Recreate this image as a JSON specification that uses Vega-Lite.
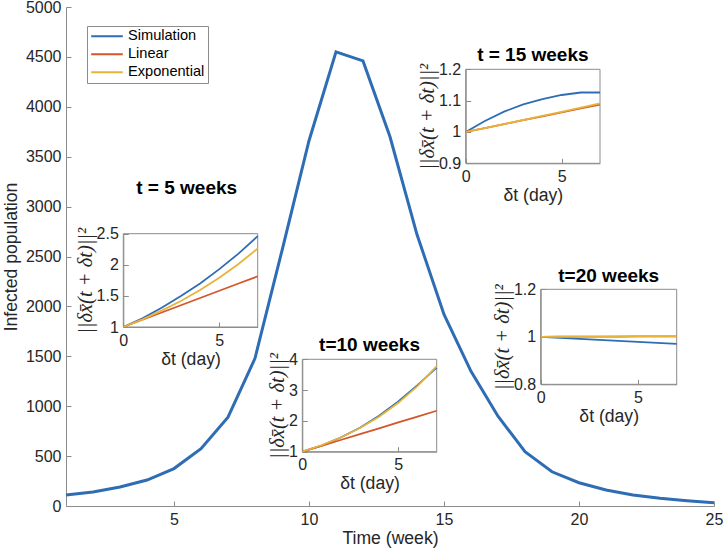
{
  "$schema": "https://vega.github.io/schema/vega-lite/v6.json",
  "width": 648,
  "height": 499,
  "autosize": {"type": "none"},
  "padding": {"left": 66, "top": 7, "right": 9, "bottom": 42},
  "background": "white",
  "config": {
    "view": {"stroke": null},
    "font": "Liberation Sans",
    "axis": {
      "grid": false,
      "labelFont": "Liberation Sans",
      "titleFont": "Liberation Sans",
      "labelFontSize": 16,
      "titleFontSize": 17.6,
      "titleFontWeight": "normal",
      "domainColor": "#8c8c8c",
      "tickColor": "#8c8c8c",
      "labelColor": "#262626",
      "titleColor": "#262626",
      "tickSize": -5,
      "labelPadding": 10,
      "labelFlush": false,
      "labelOverlap": false,
      "zindex": 1
    }
  },
  "datasets": {
    "main": [
      {"week": 1, "infected": 110, "series": "Simulation"},
      {"week": 2, "infected": 140, "series": "Simulation"},
      {"week": 3, "infected": 190, "series": "Simulation"},
      {"week": 4, "infected": 260, "series": "Simulation"},
      {"week": 5, "infected": 375, "series": "Simulation"},
      {"week": 6, "infected": 575, "series": "Simulation"},
      {"week": 7, "infected": 890, "series": "Simulation"},
      {"week": 8, "infected": 1480, "series": "Simulation"},
      {"week": 9, "infected": 2560, "series": "Simulation"},
      {"week": 10, "infected": 3660, "series": "Simulation"},
      {"week": 11, "infected": 4550, "series": "Simulation"},
      {"week": 12, "infected": 4460, "series": "Simulation"},
      {"week": 13, "infected": 3700, "series": "Simulation"},
      {"week": 14, "infected": 2720, "series": "Simulation"},
      {"week": 15, "infected": 1920, "series": "Simulation"},
      {"week": 16, "infected": 1350, "series": "Simulation"},
      {"week": 17, "infected": 900, "series": "Simulation"},
      {"week": 18, "infected": 545, "series": "Simulation"},
      {"week": 19, "infected": 343, "series": "Simulation"},
      {"week": 20, "infected": 233, "series": "Simulation"},
      {"week": 21, "infected": 160, "series": "Simulation"},
      {"week": 22, "infected": 110, "series": "Simulation"},
      {"week": 23, "infected": 77, "series": "Simulation"},
      {"week": 24, "infected": 53, "series": "Simulation"},
      {"week": 25, "infected": 33, "series": "Simulation"}
    ],
    "i5": [
      {"t": 0, "v": 1, "series": "Simulation"}, {"t": 1, "v": 1.14, "series": "Simulation"}, {"t": 2, "v": 1.31, "series": "Simulation"}, {"t": 3, "v": 1.5, "series": "Simulation"}, {"t": 4, "v": 1.7, "series": "Simulation"}, {"t": 5, "v": 1.93, "series": "Simulation"}, {"t": 6, "v": 2.18, "series": "Simulation"}, {"t": 7, "v": 2.46, "series": "Simulation"},
      {"t": 0, "v": 1, "series": "Linear"}, {"t": 1, "v": 1.1165, "series": "Linear"}, {"t": 2, "v": 1.233, "series": "Linear"}, {"t": 3, "v": 1.3495, "series": "Linear"}, {"t": 4, "v": 1.466, "series": "Linear"}, {"t": 5, "v": 1.5825, "series": "Linear"}, {"t": 6, "v": 1.699, "series": "Linear"}, {"t": 7, "v": 1.8155, "series": "Linear"},
      {"t": 0, "v": 1, "series": "Exponential"}, {"t": 1, "v": 1.1236, "series": "Exponential"}, {"t": 2, "v": 1.2625, "series": "Exponential"}, {"t": 3, "v": 1.4186, "series": "Exponential"}, {"t": 4, "v": 1.594, "series": "Exponential"}, {"t": 5, "v": 1.791, "series": "Exponential"}, {"t": 6, "v": 2.0124, "series": "Exponential"}, {"t": 7, "v": 2.2612, "series": "Exponential"}
    ],
    "i10": [
      {"t": 0, "v": 1, "series": "Simulation"}, {"t": 1, "v": 1.2, "series": "Simulation"}, {"t": 2, "v": 1.46, "series": "Simulation"}, {"t": 3, "v": 1.78, "series": "Simulation"}, {"t": 4, "v": 2.17, "series": "Simulation"}, {"t": 5, "v": 2.63, "series": "Simulation"}, {"t": 6, "v": 3.16, "series": "Simulation"}, {"t": 7, "v": 3.73, "series": "Simulation"},
      {"t": 0, "v": 1, "series": "Linear"}, {"t": 1, "v": 1.19, "series": "Linear"}, {"t": 2, "v": 1.38, "series": "Linear"}, {"t": 3, "v": 1.57, "series": "Linear"}, {"t": 4, "v": 1.76, "series": "Linear"}, {"t": 5, "v": 1.95, "series": "Linear"}, {"t": 6, "v": 2.14, "series": "Linear"}, {"t": 7, "v": 2.33, "series": "Linear"},
      {"t": 0, "v": 1, "series": "Exponential"}, {"t": 1, "v": 1.209, "series": "Exponential"}, {"t": 2, "v": 1.462, "series": "Exponential"}, {"t": 3, "v": 1.768, "series": "Exponential"}, {"t": 4, "v": 2.138, "series": "Exponential"}, {"t": 5, "v": 2.586, "series": "Exponential"}, {"t": 6, "v": 3.127, "series": "Exponential"}, {"t": 7, "v": 3.781, "series": "Exponential"}
    ],
    "i15": [
      {"t": 0, "v": 1, "series": "Simulation"}, {"t": 1, "v": 1.035, "series": "Simulation"}, {"t": 2, "v": 1.065, "series": "Simulation"}, {"t": 3, "v": 1.088, "series": "Simulation"}, {"t": 4, "v": 1.105, "series": "Simulation"}, {"t": 5, "v": 1.118, "series": "Simulation"}, {"t": 6, "v": 1.126, "series": "Simulation"}, {"t": 7, "v": 1.126, "series": "Simulation"},
      {"t": 0, "v": 1, "series": "Linear"}, {"t": 1, "v": 1.0125, "series": "Linear"}, {"t": 2, "v": 1.025, "series": "Linear"}, {"t": 3, "v": 1.0375, "series": "Linear"}, {"t": 4, "v": 1.05, "series": "Linear"}, {"t": 5, "v": 1.0625, "series": "Linear"}, {"t": 6, "v": 1.075, "series": "Linear"}, {"t": 7, "v": 1.0875, "series": "Linear"},
      {"t": 0, "v": 1, "series": "Exponential"}, {"t": 1, "v": 1.0126, "series": "Exponential"}, {"t": 2, "v": 1.0253, "series": "Exponential"}, {"t": 3, "v": 1.0382, "series": "Exponential"}, {"t": 4, "v": 1.0513, "series": "Exponential"}, {"t": 5, "v": 1.0645, "series": "Exponential"}, {"t": 6, "v": 1.0779, "series": "Exponential"}, {"t": 7, "v": 1.0914, "series": "Exponential"}
    ],
    "i20": [
      {"t": 0, "v": 1, "series": "Simulation"}, {"t": 1, "v": 0.9957, "series": "Simulation"}, {"t": 2, "v": 0.9914, "series": "Simulation"}, {"t": 3, "v": 0.9871, "series": "Simulation"}, {"t": 4, "v": 0.9829, "series": "Simulation"}, {"t": 5, "v": 0.9786, "series": "Simulation"}, {"t": 6, "v": 0.9743, "series": "Simulation"}, {"t": 7, "v": 0.97, "series": "Simulation"},
      {"t": 0, "v": 1, "series": "Linear"}, {"t": 1, "v": 1.0003, "series": "Linear"}, {"t": 2, "v": 1.0006, "series": "Linear"}, {"t": 3, "v": 1.0009, "series": "Linear"}, {"t": 4, "v": 1.0011, "series": "Linear"}, {"t": 5, "v": 1.0014, "series": "Linear"}, {"t": 6, "v": 1.0017, "series": "Linear"}, {"t": 7, "v": 1.002, "series": "Linear"},
      {"t": 0, "v": 1, "series": "Exponential"}, {"t": 1, "v": 1.0003, "series": "Exponential"}, {"t": 2, "v": 1.0006, "series": "Exponential"}, {"t": 3, "v": 1.0009, "series": "Exponential"}, {"t": 4, "v": 1.0012, "series": "Exponential"}, {"t": 5, "v": 1.0015, "series": "Exponential"}, {"t": 6, "v": 1.0018, "series": "Exponential"}, {"t": 7, "v": 1.0021, "series": "Exponential"}
    ]
  },
  "resolve": {"scale": {"x": "independent", "y": "independent"}, "axis": {"x": "independent", "y": "independent"}},
  "layer": [
    {
      "data": {"name": "main"},
      "mark": {"type": "line", "strokeWidth": 3, "clip": false},
      "encoding": {
        "x": {"field": "week", "type": "quantitative",
          "scale": {"domain": [1, 25], "nice": false, "zero": false},
          "axis": {"orient": "bottom", "values": [5, 10, 15, 20, 25], "title": "Time (week)", "titlePadding": 2}},
        "y": {"field": "infected", "type": "quantitative",
          "scale": {"domain": [0, 5000], "nice": false},
          "axis": {"orient": "left", "values": [0, 500, 1000, 1500, 2000, 2500, 3000, 3500, 4000, 4500, 5000], "format": "d", "title": "Infected population", "titlePadding": 5}},
        "color": {"field": "series", "type": "nominal",
          "scale": {"domain": ["Simulation", "Linear", "Exponential"], "range": ["#2E6DB4", "#D5552B", "#E8B33A"]},
          "legend": {"orient": "none", "legendX": 21, "legendY": 19, "title": null, "strokeColor": "#8c8c8c", "fillColor": "white", "padding": 3, "labelFont": "Liberation Sans", "labelFontSize": 14.6, "labelColor": "#000000", "rowPadding": 2, "symbolType": "stroke", "symbolSize": 1000, "symbolStrokeWidth": 2, "labelOffset": 4, "clipHeight": 14.4}}
      }
    },
    {
      "layer": [
        {
          "data": {"values": [{"label": "t = 5 weeks"}]},
          "mark": {"type": "rect", "filled": false, "stroke": "#8c8c8c", "strokeWidth": 1},
          "encoding": {
            "x": {"datum": 0, "type": "quantitative"},
            "x2": {"datum": 7},
            "y": {"datum": 1, "type": "quantitative"},
            "y2": {"datum": 2.5}
          }
        },
        {
          "data": {"name": "i5"},
          "mark": {"type": "line", "strokeWidth": 1.8},
          "encoding": {
            "x": {"field": "t", "type": "quantitative",
              "scale": {"domain": [0, 7], "range": [57.3, 191.7], "nice": false, "zero": false},
              "axis": {"orient": "bottom", "offset": -179, "values": [0, 5], "format": "~g", "title": "δt (day)", "titlePadding": 2}},
            "y": {"field": "v", "type": "quantitative",
              "scale": {"domain": [1, 2.5], "range": [320, 226.7], "nice": false, "zero": false},
              "axis": {"orient": "left", "offset": -57.3, "values": [1, 1.5, 2, 2.5], "format": "~g", "title": "||δx̄(t + δt)||²", "titleFont": "Liberation Serif", "titleFontStyle": "italic", "titleFontSize": 20.5, "titlePadding": 1}},
            "color": {"field": "series", "type": "nominal", "scale": {"domain": ["Simulation", "Linear", "Exponential"], "range": ["#2E6DB4", "#D5552B", "#E8B33A"]}}
          }
        },
        {
          "data": {"values": [{"label": "t = 5 weeks"}]},
          "mark": {"type": "text", "font": "Liberation Sans", "fontWeight": "bold", "fontSize": 19, "align": "center", "baseline": "middle", "dy": -46, "color": "#000000"},
          "encoding": {
            "x": {"datum": 3.3, "type": "quantitative"},
            "y": {"datum": 2.5, "type": "quantitative"},
            "text": {"field": "label"}
          }
        }
      ]
    },
    {
      "layer": [
        {
          "data": {"values": [{"label": "t=10 weeks"}]},
          "mark": {"type": "rect", "filled": false, "stroke": "#8c8c8c", "strokeWidth": 1},
          "encoding": {
            "x": {"datum": 0, "type": "quantitative"},
            "x2": {"datum": 7},
            "y": {"datum": 1, "type": "quantitative"},
            "y2": {"datum": 4}
          }
        },
        {
          "data": {"name": "i10"},
          "mark": {"type": "line", "strokeWidth": 1.8},
          "encoding": {
            "x": {"field": "t", "type": "quantitative",
              "scale": {"domain": [0, 7], "range": [236.3, 370.7], "nice": false, "zero": false},
              "axis": {"orient": "bottom", "offset": -54.3, "values": [0, 5], "format": "~g", "title": "δt (day)", "titlePadding": 2}},
            "y": {"field": "v", "type": "quantitative",
              "scale": {"domain": [1, 4], "range": [444.7, 352.3], "nice": false, "zero": false},
              "axis": {"orient": "left", "offset": -236.3, "values": [1, 2, 3, 4], "format": "~g", "title": "||δx̄(t + δt)||²", "titleFont": "Liberation Serif", "titleFontStyle": "italic", "titleFontSize": 20.5, "titlePadding": 1}},
            "color": {"field": "series", "type": "nominal", "scale": {"domain": ["Simulation", "Linear", "Exponential"], "range": ["#2E6DB4", "#D5552B", "#E8B33A"]}}
          }
        },
        {
          "data": {"values": [{"label": "t=10 weeks"}]},
          "mark": {"type": "text", "font": "Liberation Sans", "fontWeight": "bold", "fontSize": 19, "align": "center", "baseline": "middle", "dy": -14, "color": "#000000"},
          "encoding": {
            "x": {"datum": 3.5, "type": "quantitative"},
            "y": {"datum": 4, "type": "quantitative"},
            "text": {"field": "label"}
          }
        }
      ]
    },
    {
      "layer": [
        {
          "data": {"values": [{"label": "t = 15 weeks"}]},
          "mark": {"type": "rect", "filled": false, "stroke": "#8c8c8c", "strokeWidth": 1},
          "encoding": {
            "x": {"datum": 0, "type": "quantitative"},
            "x2": {"datum": 7},
            "y": {"datum": 0.9, "type": "quantitative"},
            "y2": {"datum": 1.2}
          }
        },
        {
          "data": {"name": "i15"},
          "mark": {"type": "line", "strokeWidth": 1.8},
          "encoding": {
            "x": {"field": "t", "type": "quantitative",
              "scale": {"domain": [0, 7], "range": [399.7, 534], "nice": false, "zero": false},
              "axis": {"orient": "bottom", "offset": -342.7, "values": [0, 5], "format": "~g", "title": "δt (day)", "titlePadding": 2}},
            "y": {"field": "v", "type": "quantitative",
              "scale": {"domain": [0.9, 1.2], "range": [156.3, 62.3], "nice": false, "zero": false},
              "axis": {"orient": "left", "offset": -399.7, "values": [0.9, 1, 1.1, 1.2], "format": "~g", "title": "||δx̄(t + δt)||²", "titleFont": "Liberation Serif", "titleFontStyle": "italic", "titleFontSize": 20.5, "titlePadding": 1}},
            "color": {"field": "series", "type": "nominal", "scale": {"domain": ["Simulation", "Linear", "Exponential"], "range": ["#2E6DB4", "#D5552B", "#E8B33A"]}}
          }
        },
        {
          "data": {"values": [{"label": "t = 15 weeks"}]},
          "mark": {"type": "text", "font": "Liberation Sans", "fontWeight": "bold", "fontSize": 19, "align": "center", "baseline": "middle", "dy": -14, "color": "#000000"},
          "encoding": {
            "x": {"datum": 3.5, "type": "quantitative"},
            "y": {"datum": 1.2, "type": "quantitative"},
            "text": {"field": "label"}
          }
        }
      ]
    },
    {
      "layer": [
        {
          "data": {"values": [{"label": "t=20 weeks"}]},
          "mark": {"type": "rect", "filled": false, "stroke": "#8c8c8c", "strokeWidth": 1},
          "encoding": {
            "x": {"datum": 0, "type": "quantitative"},
            "x2": {"datum": 7},
            "y": {"datum": 0.8, "type": "quantitative"},
            "y2": {"datum": 1.2}
          }
        },
        {
          "data": {"name": "i20"},
          "mark": {"type": "line", "strokeWidth": 1.8},
          "encoding": {
            "x": {"field": "t", "type": "quantitative",
              "scale": {"domain": [0, 7], "range": [474.7, 610.7], "nice": false, "zero": false},
              "axis": {"orient": "bottom", "offset": -121.7, "values": [0, 5], "format": "~g", "title": "δt (day)", "titlePadding": 2}},
            "y": {"field": "v", "type": "quantitative",
              "scale": {"domain": [0.8, 1.2], "range": [377.3, 282.3], "nice": false, "zero": false},
              "axis": {"orient": "left", "offset": -474.7, "values": [0.8, 1, 1.2], "format": "~g", "title": "||δx̄(t + δt)||²", "titleFont": "Liberation Serif", "titleFontStyle": "italic", "titleFontSize": 20.5, "titlePadding": 1}},
            "color": {"field": "series", "type": "nominal", "scale": {"domain": ["Simulation", "Linear", "Exponential"], "range": ["#2E6DB4", "#D5552B", "#E8B33A"]}}
          }
        },
        {
          "data": {"values": [{"label": "t=20 weeks"}]},
          "mark": {"type": "text", "font": "Liberation Sans", "fontWeight": "bold", "fontSize": 19, "align": "center", "baseline": "middle", "dy": -13, "color": "#000000"},
          "encoding": {
            "x": {"datum": 3.5, "type": "quantitative"},
            "y": {"datum": 1.2, "type": "quantitative"},
            "text": {"field": "label"}
          }
        }
      ]
    }
  ]
}
